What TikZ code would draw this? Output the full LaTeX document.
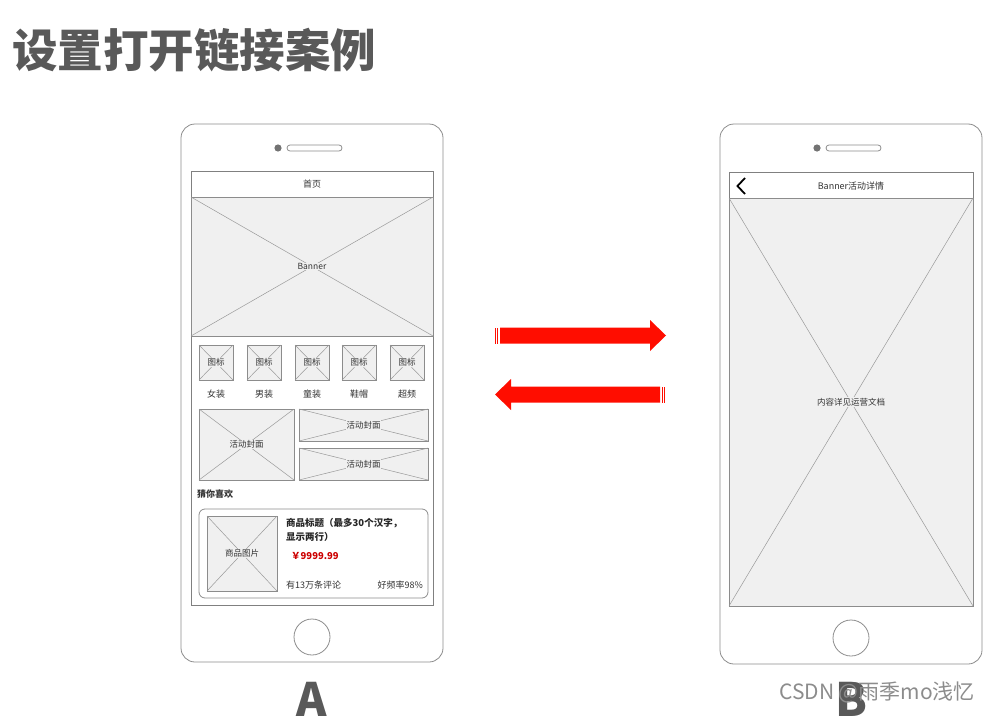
\documentclass[tikz,border=0pt]{standalone}
\usepackage{fontspec}
\setmainfont{Noto Sans CJK SC}
\begin{document}
\begin{tikzpicture}[x=1pt,y=-1pt,
  outl/.style={draw=black!45, line width=0.8pt},
  scr/.style={draw=black!50, line width=0.7pt},
  ph/.style={draw=black!45, fill=black!6, line width=0.6pt, inner sep=0pt, outer sep=0pt},
  xl/.style={draw=black!40, line width=0.5pt},
  phtxt/.style={fill=black!6, inner sep=0.6pt, font=\fontsize{8.5}{10}\selectfont, text=black!80},
  lbl/.style={font=\fontsize{9}{11}\selectfont, text=black!80, inner sep=0pt},
  redarrow/.style={fill=red!90!orange, draw=none}]
\definecolor{titlegray}{HTML}{595959}
\useasboundingbox (0,0) rectangle (999,720);
\newcommand{\phbox}[6]{%
  \node[ph, minimum width=#4pt, minimum height=#5pt] (#1) at (#2,#3) {};
  \draw[xl] (#1.north west) -- (#1.south east) (#1.south west) -- (#1.north east);
  \node[phtxt] at (#1) {#6};}

% title
\node[anchor=west, font=\fontsize{45.5}{48}\selectfont\bfseries, text=titlegray, inner sep=0pt] (title) at (12,50) {设置打开链接案例};

% ===== Phone A =====
\draw[outl, rounded corners=14] (181,124) rectangle (443,662);
\fill[black!55] (278,148) circle (3.6);
\draw[outl, rounded corners=3] (287,145) rectangle (342,151);
\draw[scr] (191,171) rectangle (433,605);
\draw[scr] (191,171) rectangle (433,197);
\node[lbl] (homet) at (312,184) {首页};
\phbox{ban}{312}{266.5}{242}{139}{Banner}
% icons
\phbox{i1}{216}{362.5}{34}{35}{图标}
\phbox{i2}{264}{362.5}{34}{35}{图标}
\phbox{i3}{312}{362.5}{34}{35}{图标}
\phbox{i4}{359}{362.5}{34}{35}{图标}
\phbox{i5}{407}{362.5}{34}{35}{图标}
\node[lbl] (l1) at (216,394) {女装};
\node[lbl] (l2) at (264,394) {男装};
\node[lbl] (l3) at (312,394) {童装};
\node[lbl] (l4) at (359,394) {鞋帽};
\node[lbl] (l5) at (407,394) {超频};
% activity covers
\phbox{a1}{246.5}{444.5}{95}{71}{活动封面}
\phbox{a2}{363.5}{425}{129}{32}{活动封面}
\phbox{a3}{363.5}{464}{129}{32}{活动封面}
\node[lbl, anchor=west, font=\fontsize{9}{11}\selectfont\bfseries] (guess) at (197,494) {猜你喜欢};
% product card
\draw[outl, rounded corners=6] (199,509) rectangle (428,598);
\phbox{pimg}{242}{553.5}{70}{75}{商品图片}
\node[lbl, anchor=west, font=\fontsize{9.5}{11}\selectfont\bfseries, text=black!85] (pt1) at (286,523) {商品标题（最多30个汉字，};
\node[lbl, anchor=west, font=\fontsize{9.5}{11}\selectfont\bfseries, text=black!85] (pt2) at (286,537) {显示两行）};
\node[lbl, anchor=west, font=\fontsize{9.5}{11}\selectfont\bfseries, text=red!80!black] (price) at (291,556) {￥9999.99};
\node[lbl, anchor=west] (rev) at (286,585) {有13万条评论};
\node[lbl, anchor=east] (rate) at (423,585) {好频率98\%};
\draw[outl] (312,637) circle (18);

% ===== Phone B =====
\draw[outl, rounded corners=14] (720,124) rectangle (982,664);
\fill[black!55] (817,148) circle (3.6);
\draw[outl, rounded corners=3] (826,145) rectangle (881,151);
\draw[scr] (729,172) rectangle (973,606);
\draw[scr] (729,172) rectangle (973,198);
\draw[line width=1.8pt, black] (745,178) -- (737.5,186) -- (745,194);
\node[lbl] (btitle) at (851,186) {Banner活动详情};
\phbox{cont}{851}{402}{244}{408}{内容详见运营文档}
\draw[outl] (851,638) circle (18);

% ===== arrows =====
\fill[redarrow] (500,327.5) -- (650,327.5) -- (650,320) -- (666,335.5) -- (650,351) -- (650,343.5) -- (500,343.5) -- cycle;
\fill[redarrow] (494.5,327.5) rectangle (495.7,343.5);
\fill[redarrow] (496.8,327.5) rectangle (498.3,343.5);
\fill[redarrow] (660,386.5) -- (511,386.5) -- (511,379) -- (495,394.5) -- (511,410) -- (511,402.5) -- (660,402.5) -- cycle;
\fill[redarrow] (661.5,386.5) rectangle (663,402.5);
\fill[redarrow] (664.2,386.5) rectangle (665.4,402.5);

% labels
\node[anchor=base, font=\fontsize{46}{50}\selectfont\bfseries, text=titlegray, inner sep=0pt] (la) at (312,716) {A};
\node[anchor=base, font=\fontsize{46}{50}\selectfont\bfseries, text=titlegray, inner sep=0pt] (lb) at (851,716) {B};
\node[anchor=west, font=\fontsize{21}{23}\selectfont, text=black!45, inner sep=0pt] (wm) at (779,692) {CSDN @雨季mo浅忆};
\end{tikzpicture}
\end{document}
